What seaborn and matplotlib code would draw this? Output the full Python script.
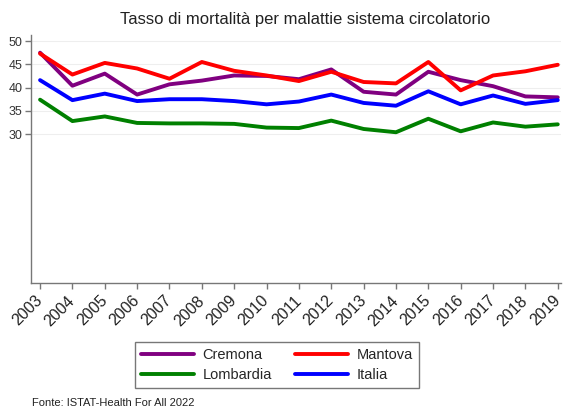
import matplotlib
matplotlib.use("Agg")
import matplotlib.pyplot as plt
import seaborn as sns
import pandas as pd

years = list(range(2003, 2020))
cremona = [47.5, 40.4, 43.0, 38.5, 40.7, 41.5, 42.6, 42.5, 41.8, 43.9, 39.1, 38.5, 43.4, 41.6, 40.3, 38.1, 37.9]
mantova = [47.3, 42.8, 45.3, 44.1, 41.9, 45.5, 43.6, 42.6, 41.4, 43.4, 41.2, 40.9, 45.5, 39.4, 42.6, 43.5, 44.9]
lombardia = [37.4, 32.8, 33.8, 32.4, 32.3, 32.3, 32.2, 31.4, 31.3, 32.9, 31.1, 30.4, 33.3, 30.6, 32.5, 31.6, 32.1]
italia = [41.6, 37.3, 38.7, 37.1, 37.5, 37.5, 37.1, 36.4, 37.0, 38.5, 36.7, 36.1, 39.2, 36.4, 38.3, 36.5, 37.3]
series_names = ["Cremona", "Mantova", "Lombardia", "Italia"]
colors = ["#800080", "#ff0000", "#008000", "#0000ff"]
yticks = [30, 35, 40, 45, 50]

df = pd.concat([
    pd.DataFrame({"anno": years, "valore": vals, "serie": name})
    for name, vals in zip(series_names, [cremona, mantova, lombardia, italia])
])

sns.set_style("white")
plt.rcParams['font.family'] = ['Liberation Sans', 'DejaVu Sans']

fig = plt.figure(figsize=(5.66, 4.07), dpi=100)
ax = fig.add_axes([31/566, 1 - 283/407, (561 - 31)/566, (283 - 35)/407])

sns.lineplot(data=df, x="anno", y="valore", hue="serie", hue_order=series_names,
             palette=dict(zip(series_names, colors)), linewidth=2.8, ax=ax, legend=False)

ax.set_xlim(2003 - 0.28, 2019 + 0.1)
ax.set_ylim(-2, 51.3)
ax.set_yticks(yticks)
ax.set_yticklabels([str(t) for t in yticks], fontsize=9, color="#333333")
ax.set_xticks(years)
ax.set_xticklabels([str(y) for y in years], rotation=45, ha="right", va="center",
                   rotation_mode="anchor", fontsize=11.5, color="#222222")
for y in yticks:
    ax.axhline(y, color="#eeeeee", lw=0.8, zorder=0)
ax.set_xlabel("")
ax.set_ylabel("")
for s in ["top", "right"]:
    ax.spines[s].set_visible(False)
for s in ["left", "bottom"]:
    ax.spines[s].set_color("#777777")
    ax.spines[s].set_linewidth(1.0)
ax.tick_params(axis="y", direction="out", length=4, width=1, color="#777777", left=True, pad=2)
ax.tick_params(axis="x", direction="out", length=4, width=1, color="#777777", bottom=True, pad=7)

ax.set_title("Tasso di mortalità per malattie sistema circolatorio", fontsize=12, color="#222222",
             pad=8, x=(305 - 31)/(561 - 31))

order = [0, 2, 1, 3]
handles = [plt.Line2D([0], [0], color=colors[i], lw=2.8) for i in order]
labels = [series_names[i] for i in order]
leg = fig.legend(handles, labels, loc="center", bbox_to_anchor=(277/566, 1 - 365/407),
                 ncol=2, fontsize=10.5, frameon=True, fancybox=False, edgecolor="#555555",
                 handlelength=3.6, handletextpad=0.6, columnspacing=1.6, borderpad=0.4, labelspacing=0.4)
leg.get_frame().set_linewidth(1.0)

fig.text(32/566, 1 - 403/407, "Fonte: ISTAT-Health For All 2022", fontsize=8, color="#222222", va="center")

fig.savefig("out.png", dpi=100, facecolor="white")
